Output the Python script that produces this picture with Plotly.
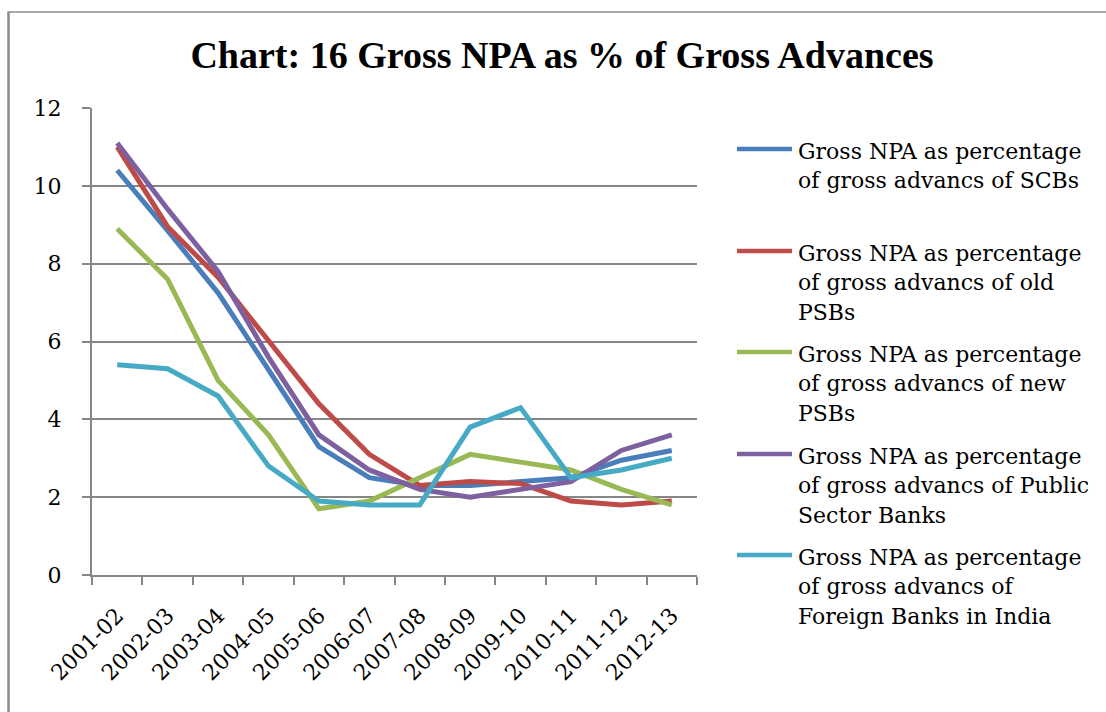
import plotly.graph_objects as go

categories = ["2001-02", "2002-03", "2003-04", "2004-05", "2005-06", "2006-07",
              "2007-08", "2008-09", "2009-10", "2010-11", "2011-12", "2012-13"]

scbs = [10.4, 8.85, 7.25, 5.3, 3.3, 2.5, 2.3, 2.3, 2.4, 2.5, 2.95, 3.2]
old_psbs = [11.0, 8.95, 7.65, 6.0, 4.4, 3.1, 2.3, 2.4, 2.35, 1.9, 1.8, 1.9]
new_psbs = [8.9, 7.6, 5.0, 3.6, 1.7, 1.9, 2.5, 3.1, 2.9, 2.7, 2.2, 1.8]
public_sector = [11.1, 9.4, 7.8, 5.6, 3.6, 2.7, 2.2, 2.0, 2.2, 2.4, 3.2, 3.6]
foreign_banks = [5.4, 5.3, 4.6, 2.8, 1.9, 1.8, 1.8, 3.8, 4.3, 2.5, 2.7, 3.0]

series_values = [scbs, old_psbs, new_psbs, public_sector, foreign_banks]
series_names = [
    ["Gross NPA as percentage", "of gross advancs of SCBs"],
    ["Gross NPA as percentage", "of gross advancs of old", "PSBs"],
    ["Gross NPA as percentage", "of gross advancs of new", "PSBs"],
    ["Gross NPA as percentage", "of gross advancs of Public", "Sector Banks"],
    ["Gross NPA as percentage", "of gross advancs of", "Foreign Banks in India"],
]
colors = ["#4A7EBB", "#BE4B48", "#98B954", "#7D60A0", "#46AAC5"]

title_text = "Chart: 16 Gross NPA as % of Gross Advances"
y_ticks = [0, 2, 4, 6, 8, 10, 12]

W, H = 1106, 712
L, R, T, B = 92, 409, 108, 137
PW, PH = W - L - R, H - T - B

def ux(px):
    return (px - L) / PW

def vy(py):
    return (H - B - py) / PH

FONT = "DejaVu Serif"
GRID = "#868686"

fig = go.Figure()
for vals, name, col in zip(series_values, series_names, colors):
    fig.add_trace(go.Scatter(
        x=categories, y=vals, mode="lines", name=" ".join(name),
        line=dict(color=col, width=5), showlegend=False,
    ))

shapes = []
annotations = []
# manual legend
legend_line_y = [149, 251, 352, 454, 555]
line_gap = 29.5
for name, col, ly in zip(series_names, colors, legend_line_y):
    shapes.append(dict(type="line", xref="paper", yref="paper",
                       x0=ux(737), x1=ux(792), y0=vy(ly), y1=vy(ly),
                       line=dict(color=col, width=4.5)))
    for i, txt in enumerate(name):
        annotations.append(dict(text=txt, xref="paper", yref="paper",
                                x=ux(796), y=vy(ly + i * line_gap + 2),
                                xanchor="left", yanchor="middle", showarrow=False,
                                font=dict(family=FONT, size=22, color="black")))

# outer chart frame (left and top edges visible)
shapes.append(dict(type="line", xref="paper", yref="paper",
                   x0=ux(8.5), x1=ux(8.5), y0=vy(12), y1=vy(720),
                   line=dict(color="#8C8C8C", width=2.5)))
shapes.append(dict(type="line", xref="paper", yref="paper",
                   x0=ux(7.5), x1=ux(1115), y0=vy(12), y1=vy(12),
                   line=dict(color="#8C8C8C", width=1.5)))

fig.update_layout(
    width=W, height=H,
    margin=dict(l=L, r=R, t=T, b=B, autoexpand=False),
    paper_bgcolor="white", plot_bgcolor="white",
    title=dict(text=title_text, x=562 / W, y=1 - 55 / H, xref="container", yref="container",
               xanchor="center", yanchor="middle",
               font=dict(family="Liberation Serif", size=38, color="black", weight="bold")),
    shapes=shapes, annotations=annotations,
    showlegend=False,
    font=dict(family=FONT, size=22, color="black"),
)
fig.update_xaxes(
    type="category", range=[-0.5, len(categories) - 0.5],
    tickson="boundaries", ticks="outside", ticklen=8, tickwidth=1.5, tickcolor=GRID,
    showline=True, linecolor=GRID, linewidth=2, showgrid=False, zeroline=False,
    tickangle=-45, ticklabelstandoff=17,
    tickfont=dict(family=FONT, size=22, color="black"),
)
fig.update_yaxes(
    range=[0, 12], tickvals=y_ticks, ticks="outside", ticklen=8, tickwidth=1.5, tickcolor=GRID,
    showline=True, linecolor=GRID, linewidth=2, showgrid=True, gridcolor=GRID, gridwidth=1.5,
    zeroline=False, ticklabelstandoff=16,
    tickfont=dict(family=FONT, size=22, color="black"),
)

fig.write_html("out.html", config={"displayModeBar": False},
               post_script="document.body.style.margin='0';document.body.style.overflow='hidden';")
